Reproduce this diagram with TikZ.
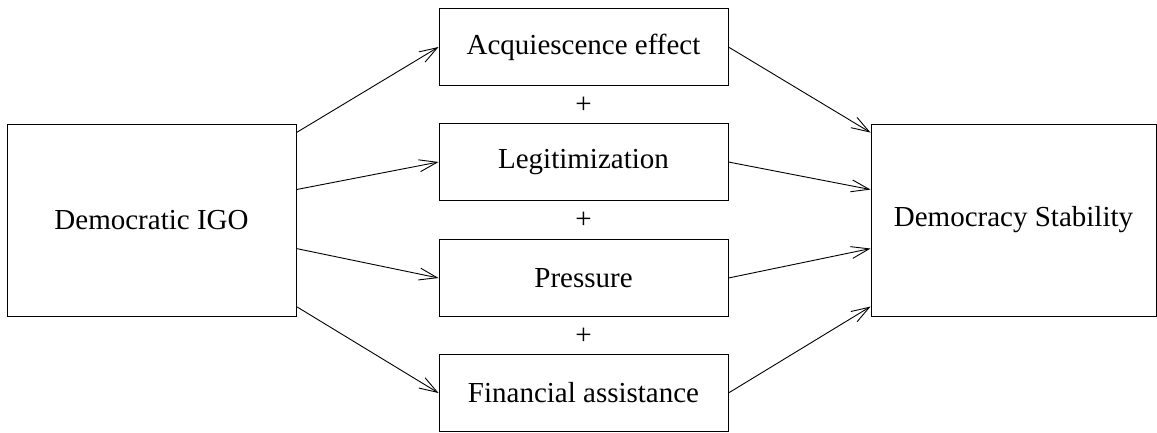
\documentclass[tikz,border=0pt]{standalone}
\usepackage{fontspec}
\setmainfont{Liberation Serif}
\usetikzlibrary{arrows.meta,calc}
\begin{document}
\begin{tikzpicture}[x=1pt,y=-1pt,
  box/.style={draw=black,line width=0.9pt,minimum width=289pt,inner sep=0pt},
  side/.style={box,minimum height=192pt},
  mid/.style={box,minimum height=77pt},
  link/.style={line width=0.9pt,-{Straight Barb[length=18pt,width=12pt,line width=0.9pt]}},
  lbl/.style={font=\fontsize{29}{34}\selectfont}]
\useasboundingbox (0,0) rectangle (1157,432);
\node[side,lbl] (L) at (151.5,220) {Democratic IGO};
\node[side,lbl,minimum width=285pt] (R) at (1013.5,220) {Democracy Stability};
\node[mid,lbl] (A) at (583.5,47) {Acquiescence effect};
\node[mid,lbl] (B) at (583.5,162) {Legitimization};
\node[mid,lbl] (C) at (583.5,278) {Pressure};
\node[mid,lbl] (D) at (583.5,393) {Financial assistance};
\node[lbl] (p1) at (583.5,105) {+};
\node[lbl] (p2) at (583.5,220) {+};
\node[lbl] (p3) at (583.5,336) {+};
% exit points on the left box, entry points on the right box
\coordinate (l1) at ($(L.north east)+(0,9)$);
\coordinate (l2) at ($(L.north east)+(0,66)$);
\coordinate (l3) at ($(L.north east)+(0,125)$);
\coordinate (l4) at ($(L.north east)+(0,183)$);
\coordinate (r1) at ($(R.north west)+(0,9)$);
\coordinate (r2) at ($(R.north west)+(0,66)$);
\coordinate (r3) at ($(R.north west)+(0,125)$);
\coordinate (r4) at ($(R.north west)+(0,183)$);
\draw[link] (l1) -- (A.west);
\draw[link] (l2) -- (B.west);
\draw[link] (l3) -- (C.west);
\draw[link] (l4) -- (D.west);
\draw[link] (A.east) -- (r1);
\draw[link] (B.east) -- (r2);
\draw[link] (C.east) -- (r3);
\draw[link] (D.east) -- (r4);
\end{tikzpicture}
\end{document}
